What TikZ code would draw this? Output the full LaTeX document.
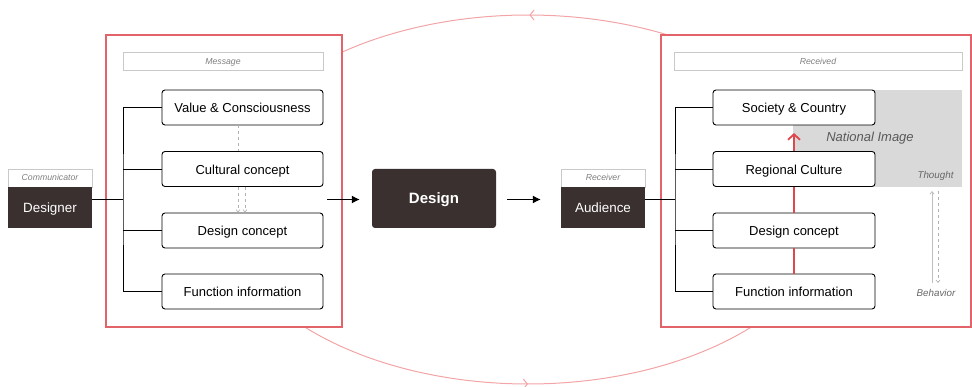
\documentclass[tikz,border=0pt]{standalone}
\usepackage{fontspec}
\setmainfont{Liberation Sans}
\usetikzlibrary{arrows.meta,decorations.markings}

\definecolor{frame}{HTML}{E2636A}
\definecolor{arcred}{HTML}{F2A4A6}
\definecolor{dark}{HTML}{3A302F}
\definecolor{hdrline}{HTML}{C9C9C9}
\definecolor{hdrtext}{HTML}{808080}
\definecolor{panelgray}{HTML}{D9D9D9}
\definecolor{flow}{HTML}{E0474C}

\tikzset{
  box/.style={draw=black, line width=0.9pt, rounded corners=3pt, fill=white,
    minimum width=161pt, minimum height=35pt, inner sep=0pt,
    text height=13pt, text depth=2.3pt,
    font=\fontsize{13}{15}\selectfont},
  hdr/.style={draw=hdrline, line width=0.9pt, fill=white, minimum height=18pt,
    inner sep=0pt, text height=7.5pt, text depth=1.5pt,
    text=hdrtext, font=\fontsize{8.7}{10}\itshape},
  darkbox/.style={fill=dark, text=white, minimum width=84pt, minimum height=41pt,
    inner sep=0pt, text height=13pt, text depth=2.3pt,
    font=\fontsize{13.4}{15}\selectfont},
  groupframe/.style={draw=frame, line width=1.2pt, fill=white},
  wire/.style={draw=black, line width=0.9pt},
  flowarrow/.style={-{Latex[length=8pt,width=8pt]}, line width=1.1pt},
  cyclearc/.style={draw=arcred, line width=1pt,
    postaction={decorate, decoration={markings,
      mark=at position #1 with {\arrow{Straight Barb[length=4pt,width=10pt]}}}}},
  faint/.style={draw=black!30, line width=0.6pt},
  sidenote/.style={text=black!60, font=\fontsize{9.8}{11}\itshape}
}

\begin{document}
\begin{tikzpicture}[x=1pt,y=-1pt]
\useasboundingbox (0,0) rectangle (972,387);

% feedback cycle: two arcs of one ellipse, hidden inside the frames
\draw[cyclearc=0.43] plot[domain=-60:-130, samples=90, smooth]
  ({528+309*cos(\x)},{199.5+184.5*sin(\x)});
\draw[cyclearc=0.5] plot[domain=140:40, samples=90, smooth]
  ({528+309*cos(\x)},{199.5+184.5*sin(\x)});

% the two group frames
\draw[groupframe] (106,35) rectangle (342,327);
\draw[groupframe] (661,35) rectangle (971,327);

% sender
\node[hdr, minimum width=84pt] (comm) at (50,178) {Communicator};
\node[darkbox] (designer) at (50,207.5) {Designer};

% message side
\node[hdr, minimum width=200pt] (msg) at (223,61.5) {Message};
\node[box] (m1) at (242.5,107.5) {Value \& Consciousness};
\node[box] (m2) at (242.5,169)   {Cultural concept};
\node[box] (m3) at (242.5,230.5) {Design concept};
\node[box] (m4) at (242.5,291.5) {Function information};

\coordinate (lmid) at (123,199.5);
\draw[wire] (designer.east |- lmid) -- (lmid);
\draw[wire] (m1.west) -| (lmid) |- (m4.west);
\draw[wire] (m2.west) -- (m2.west -| lmid);
\draw[wire] (m3.west) -- (m3.west -| lmid);

\draw[faint, dashed] ([xshift=-4.5pt]m1.south) -- ([xshift=-4.5pt]m2.north);
\draw[faint, dashed, -{Straight Barb[length=2.5pt,width=4pt]}]
  ([xshift=-4.5pt]m2.south) -- ([xshift=-4.5pt]m3.north);
\draw[faint, dashed, -{Straight Barb[length=2.5pt,width=4pt]}]
  ([xshift=2.5pt]m2.south) -- ([xshift=2.5pt]m3.north);

% the design itself
\node[darkbox, minimum width=124pt, minimum height=59pt, rounded corners=3pt,
      font=\fontsize{15}{17}\bfseries] (design) at (434,198.5) {Design};
\coordinate (lout) at (327,199.5);
\draw[flowarrow, shorten >=12pt] (lout) -- (design.west |- lout);

% receiver
\node[hdr, minimum width=84pt] (recv) at (603,178) {Receiver};
\node[darkbox] (audience) at (603,207.5) {Audience};
\draw[flowarrow, shorten <=11pt, shorten >=20pt] (design.east |- lout) -- (audience.west |- lout);

% received side
\node[hdr, minimum width=288pt] (rcvd) at (818,61.5) {Received};
\fill[panelgray] (793,90) rectangle (962,187);
\node[box, minimum width=162pt] (r1) at (794,107.5) {Society \& Country};
\node[box, minimum width=162pt] (r2) at (794,169)   {Regional Culture};
\node[box, minimum width=162pt] (r3) at (794,230.5) {Design concept};
\node[box, minimum width=162pt] (r4) at (794,291.5) {Function information};

\coordinate (rmid) at (675,199.5);
\draw[wire] (audience.east |- rmid) -- (rmid);
\draw[wire] (r1.west) -| (rmid) |- (r4.west);
\draw[wire] (r2.west) -- (r2.west -| rmid);
\draw[wire] (r3.west) -- (r3.west -| rmid);

% upward path towards the national image
\draw[flow, line width=1.8pt] (r4.north) -- (r3.south);
\draw[flow, line width=1.8pt] (r3.north) -- (r2.south);
\draw[flow, line width=1.8pt, -{Straight Barb[length=5.5pt,width=12pt]}]
  (r2.north) -- ++(0,-18);

\node[text=black!65, font=\fontsize{13}{15}\itshape] (nimg) at (870,138) {National Image};
\node[sidenote] (thought) at (935.5,176) {Thought};
\node[sidenote] (behavior) at (936,293) {Behavior};
\draw[draw=black!25, line width=0.8pt, -{Straight Barb[length=2.5pt,width=4pt]}]
  (932,283) -- (932,191);
\draw[draw=black!30, line width=0.6pt, dashed, -{Straight Barb[length=2.5pt,width=4pt]}]
  (938,191) -- (938,283);
\end{tikzpicture}
\end{document}
